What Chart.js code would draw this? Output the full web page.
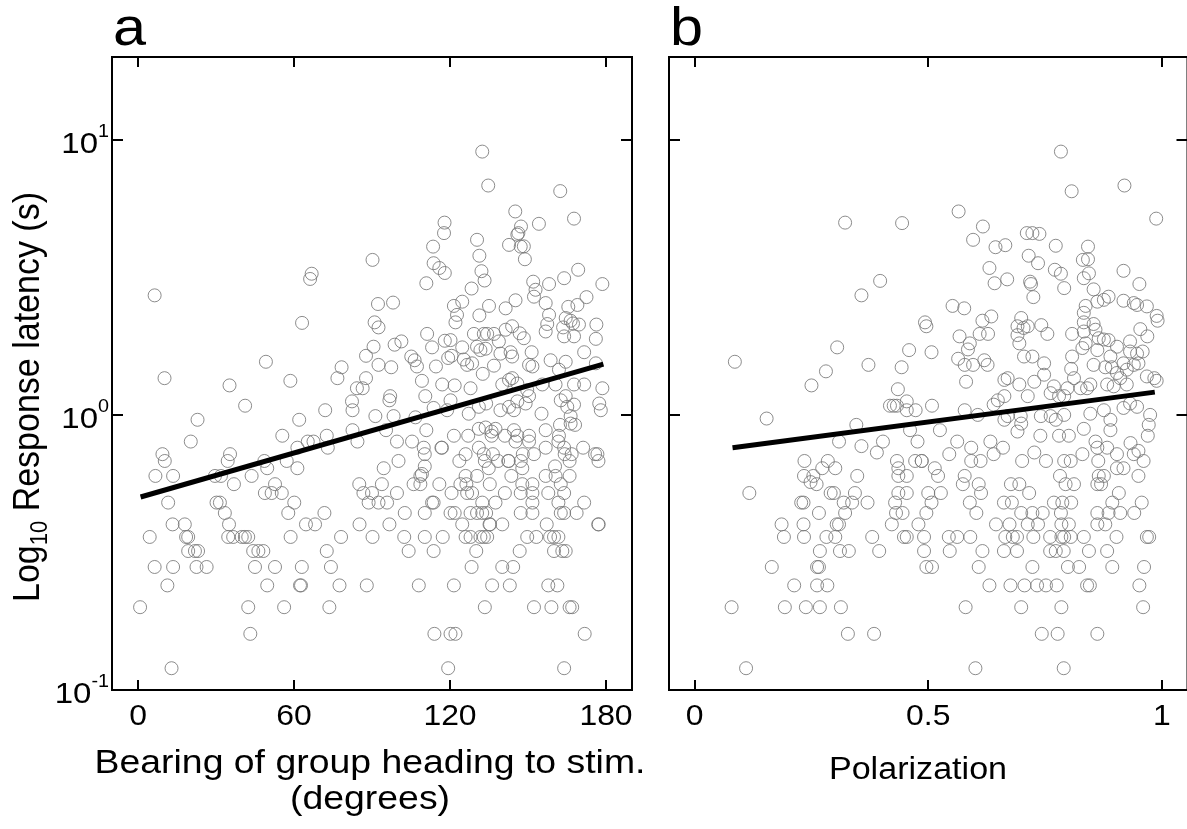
<!DOCTYPE html>
<html>
<head>
<meta charset="utf-8">
<script src="https://cdn.jsdelivr.net/npm/chart.js@4.4.1/dist/chart.umd.min.js"></script>
<style>
  html, body { margin: 0; padding: 0; background: #fff; }
  body { width: 1187px; height: 829px; overflow: hidden; position: relative; }
  #wrapA { position: absolute; left: 0; top: 0; width: 650px; height: 829px; }
  #wrapB { position: absolute; left: 650px; top: 0; width: 545px; height: 829px; }
</style>
</head>
<body>
<div id="wrapA"><canvas id="chartA"></canvas></div>
<div id="wrapB"><canvas id="chartB"></canvas></div>
<script>
// panel a: [bearing (deg), latency (s)]
const bearingLatency = [
  [6.4, 2.72], [66.8, 3.26], [66.2, 3.12], [63.1, 2.16], [49.2, 1.56], [10.2, 1.36], [35.2, 1.28], [58.6, 1.33],
  [78.3, 1.49], [76.7, 1.36], [87.7, 1.64], [87.7, 1.36], [84.2, 1.25], [86.4, 1.25], [82.3, 1.12], [82.5, 1.04],
  [72, 1.04], [41.2, 1.08],
  [22.9, 0.96], [62, 0.96], [20.3, 0.8], [55.5, 0.84], [61.3, 0.76], [65.3, 0.8], [67.5, 0.8], [72.6, 0.84],
  [73, 0.76], [82.5, 0.88], [84.4, 0.8], [9.4, 0.72], [10.3, 0.68], [6.7, 0.6], [13.5, 0.6], [35.4, 0.72],
  [34.5, 0.68], [29.6, 0.6], [31.9, 0.6], [36.9, 0.56], [43.7, 0.6], [48.6, 0.68], [49.7, 0.64], [52.7, 0.56],
  [57.2, 0.68], [61.3, 0.64], [48.8, 0.52], [51.4, 0.52], [55.3, 0.52], [11.6, 0.48], [30.2, 0.48], [31.5, 0.48],
  [60.1, 0.48], [57.8, 0.44], [33.4, 0.44], [71.7, 0.44], [85.1, 0.56], [86.7, 0.52], [13.3, 0.4], [18, 0.4],
  [35, 0.4], [64.6, 0.4], [68.1, 0.4], [85.2, 0.4], [4.5, 0.36], [18.5, 0.36], [19.3, 0.36], [34.7, 0.36],
  [36.6, 0.36], [39.9, 0.36], [41.1, 0.36], [42.4, 0.36], [58.7, 0.36], [78.1, 0.36], [19.3, 0.32], [21.9, 0.32],
  [23.1, 0.32], [44.3, 0.32], [46.3, 0.32], [48.2, 0.32], [72.6, 0.32], [6.4, 0.28], [13.5, 0.28], [22.5, 0.28],
  [26.4, 0.28], [45, 0.28], [52.7, 0.28], [63, 0.28], [74.2, 0.28], [11.3, 0.24], [49.7, 0.24], [62.3, 0.24],
  [62.7, 0.24], [77.5, 0.24], [0.8, 0.2], [42.4, 0.2], [56.2, 0.2], [73.6, 0.2], [43.2, 0.16], [12.9, 0.12],
  [119.3, 0.12], [163.9, 0.12],
  [114, 0.16], [120.2, 0.16], [122.1, 0.16], [171.8, 0.16],
  [133.4, 0.2], [152.3, 0.2], [159, 0.2], [166, 0.2], [167, 0.2],
  [88, 0.24], [108, 0.24], [121.5, 0.24], [136.2, 0.24], [143, 0.24], [157.8, 0.24], [161.3, 0.24],
  [128.3, 0.28], [140.1, 0.28], [144.3, 0.28],
  [104.1, 0.32], [113.7, 0.32], [130.1, 0.32], [146.8, 0.32], [160, 0.32], [163.2, 0.32], [164.5, 0.32],
  [90.2, 0.36], [102.4, 0.36], [110.3, 0.36], [117.2, 0.36], [126, 0.36], [127.9, 0.36], [131.7, 0.36],
  [133, 0.36], [134.3, 0.36], [149.7, 0.36], [153.2, 0.36], [158.5, 0.36], [160, 0.36], [161.7, 0.36],
  [96.7, 0.4], [124.7, 0.4], [135.2, 0.4], [135.4, 0.4], [140.1, 0.4], [157.2, 0.4], [177, 0.4], [177.2, 0.4],
  [102.6, 0.44], [110.3, 0.44], [120.2, 0.44], [121.8, 0.44], [127.9, 0.44], [130.4, 0.44], [132.4, 0.44],
  [133.9, 0.44], [147.2, 0.44], [151.7, 0.44], [162.6, 0.44], [163.9, 0.44], [168.7, 0.44],
  [88.7, 0.48], [92.5, 0.48], [95.8, 0.48], [113.1, 0.48], [113.7, 0.48], [132.4, 0.48], [137.5, 0.48],
  [151.7, 0.48], [161.7, 0.48], [171.6, 0.48],
  [90, 0.52], [99.6, 0.52], [120.6, 0.52], [126.6, 0.52], [128.5, 0.52], [141.1, 0.52], [147.2, 0.52],
  [151.7, 0.52], [157.8, 0.52], [163.9, 0.52],
  [93.8, 0.56], [106, 0.56], [108.6, 0.56], [115.9, 0.56], [124, 0.56], [126.3, 0.56], [135.3, 0.56],
  [147.8, 0.56], [151.7, 0.56], [162.6, 0.56],
  [108.6, 0.6], [109.2, 0.61], [126, 0.6], [130.4, 0.6], [143.6, 0.6], [156.8, 0.6], [160.6, 0.6], [166, 0.6],
  [94.5, 0.64], [110.3, 0.65], [134.9, 0.64], [147.8, 0.64], [160.4, 0.65],
  [100.2, 0.68], [123.6, 0.68], [133.4, 0.68], [138.5, 0.68], [142.4, 0.68], [142.6, 0.68], [147.2, 0.68],
  [166, 0.68], [177.1, 0.68],
  [110.3, 0.72], [126, 0.72], [133, 0.72], [136.5, 0.72], [148, 0.72], [152.3, 0.72], [164.1, 0.72],
  [166.8, 0.72], [175.8, 0.72], [176.7, 0.72],
  [116.7, 0.76], [116.9, 0.76], [109.9, 0.76], [131.1, 0.76], [156.8, 0.76], [163.9, 0.76], [171.2, 0.76],
  [99.6, 0.8], [105.4, 0.8], [145.2, 0.8], [150.4, 0.8], [161.7, 0.8],
  [121.5, 0.84], [127, 0.84], [136, 0.84], [141.1, 0.84], [145.9, 0.84], [150.4, 0.84], [161.9, 0.84],
  [168.1, 0.92], [162.3, 0.92], [166.4, 0.93],
  [95.4, 0.88], [110.9, 0.88], [131.1, 0.89], [133.7, 0.9], [136, 0.87], [137.5, 0.89], [144.6, 0.88], [156.8, 0.88],
  [132.4, 9.06], [134.7, 6.82], [162.4, 6.51], [145.1, 5.49], [167.7, 5.17], [117.9, 5.0], [117.7, 4.58],
  [147.3, 4.84], [146.3, 4.58], [145.9, 4.52], [154.2, 4.95], [142.7, 4.15], [147.2, 4.09], [148.4, 4.1],
  [148.8, 3.68], [130.4, 4.33], [131.3, 3.79], [113.5, 4.09], [113.7, 3.56], [115.9, 3.42], [118, 3.28],
  [110.9, 3.01], [132.1, 3.33], [133.3, 3.08], [128.3, 2.88], [90.2, 3.66], [92.3, 2.53], [98.1, 2.56],
  [91, 2.17], [92.5, 2.08], [121.5, 2.49], [124.7, 2.58], [122.7, 2.31], [122.1, 2.17], [135, 2.49],
  [131.3, 2.3], [141.4, 2.44], [145.2, 2.61], [152, 3.05], [152.9, 2.85], [152.3, 2.69], [158.1, 2.99],
  [163.9, 3.14], [169.3, 3.37], [178.6, 2.99], [156.8, 2.55], [158.1, 2.31], [157.4, 2.14], [156.8, 2.01],
  [165.5, 2.47], [169, 2.51], [172.5, 2.68], [164.5, 2.25], [166.4, 2.2], [167.3, 2.15], [163.5, 2.08],
  [169.6, 2.13], [163.9, 1.93], [167.7, 1.93], [176.3, 2.13], [176.1, 1.89], [111.2, 1.97], [113.1, 1.76],
  [118, 1.86], [120.2, 1.87], [119.3, 1.61], [120.6, 1.64], [124.7, 1.76], [125.3, 1.59], [129.2, 1.97],
  [133, 1.97], [134.3, 1.97], [136.9, 1.97], [130.4, 1.77], [131.7, 1.72], [133.7, 1.74], [128.5, 1.54],
  [126.6, 1.52], [138.8, 1.85], [141.4, 2.04], [143.9, 2.1], [146.8, 1.98], [148.4, 1.9], [139.4, 1.67],
  [143.3, 1.69], [143.9, 1.63], [151.4, 1.69], [150.4, 1.52], [151.7, 1.5], [136.9, 1.51], [132.6, 1.41],
  [114.6, 1.5], [109.2, 1.33], [117, 1.29], [121.8, 1.28], [110.5, 1.17], [97, 1.17], [96.7, 1.13],
  [90.6, 1.77], [92.5, 1.52], [97.4, 1.49], [98.7, 1.8], [101.3, 1.85], [105.1, 1.63], [106.4, 1.58],
  [107.3, 1.5], [158.7, 1.58], [155.5, 1.29], [160.6, 1.29], [164.5, 1.56], [161.9, 1.46], [167.7, 1.29],
  [171.6, 1.29], [171.6, 1.69], [176.1, 1.54], [178.6, 1.25], [177.4, 1.1], [178, 1.04], [162.6, 1.13],
  [164.5, 1.17], [165.1, 1.07], [167.7, 1.09], [155.2, 1.01], [166.4, 0.99], [140.1, 1.29], [142.7, 1.34],
  [143.9, 1.36], [145.9, 1.3], [149.7, 1.23], [150.4, 1.17], [149.1, 1.1], [145.9, 1.12], [142.7, 1.07],
  [139.4, 1.04], [144.6, 1.04], [133.9, 1.1], [131.1, 1.07], [127.2, 1.01], [120.2, 1.13], [118.9, 1.04],
  [127.9, 1.25], [113.7, 1.06], [98.3, 0.99], [91.3, 0.99], [106.7, 0.98]
];

// panel b: [polarization, latency (s)]
const polarLatency = [
  [0.322, 5.0], [0.444, 4.98], [0.397, 3.07], [0.357, 2.72], [0.493, 2.17], [0.496, 2.1], [0.305, 1.76],
  [0.459, 1.72], [0.086, 1.56], [0.281, 1.44], [0.372, 1.52], [0.443, 1.49], [0.25, 1.28], [0.435, 1.24],
  [0.418, 1.08], [0.426, 1.08], [0.433, 1.08], [0.454, 1.12], [0.454, 1.04], [0.473, 1.04], [0.154, 0.97],
  [0.784, 9.06], [0.807, 6.5], [0.92, 6.82], [0.988, 5.17], [0.565, 5.49], [0.617, 4.84], [0.596, 4.33],
  [0.644, 4.07], [0.665, 4.14], [0.711, 4.58], [0.723, 4.58], [0.738, 4.55], [0.773, 4.12], [0.842, 4.09],
  [0.831, 3.66], [0.842, 3.68], [0.715, 3.79], [0.735, 3.56], [0.631, 3.42], [0.642, 3.01], [0.669, 3.11],
  [0.718, 3.05], [0.72, 2.99], [0.725, 2.68], [0.771, 3.37], [0.784, 3.26], [0.791, 2.89], [0.833, 3.14],
  [0.844, 3.27], [0.854, 2.86], [0.918, 3.34], [0.952, 2.99], [0.837, 2.49], [0.862, 2.58], [0.876, 2.62],
  [0.886, 2.69], [0.918, 2.6], [0.94, 2.55], [0.947, 2.51], [0.968, 2.48], [0.989, 2.29], [0.991, 2.2],
  [0.552, 2.49], [0.577, 2.44], [0.616, 2.2], [0.635, 2.28], [0.61, 1.97], [0.628, 1.97], [0.567, 1.93],
  [0.589, 1.82], [0.585, 1.73], [0.699, 2.25], [0.691, 2.1], [0.713, 2.1], [0.704, 2.07], [0.742, 2.12],
  [0.755, 1.97], [0.691, 1.95], [0.695, 1.82], [0.705, 1.63], [0.723, 1.63], [0.808, 1.97], [0.833, 2.01],
  [0.837, 1.82], [0.83, 1.75], [0.833, 2.17], [0.833, 2.35], [0.854, 2.14], [0.858, 2.04], [0.865, 1.9],
  [0.876, 1.88], [0.886, 1.87], [0.904, 1.77], [0.932, 1.85], [0.954, 2.05], [0.969, 1.93], [0.932, 1.7],
  [0.947, 1.67], [0.959, 1.7], [0.95, 1.54], [0.94, 1.52], [0.918, 1.54], [0.925, 1.46], [0.968, 1.38],
  [0.984, 1.36], [0.989, 1.33], [0.89, 1.63], [0.879, 1.49], [0.893, 1.49], [0.904, 1.42], [0.883, 1.29],
  [0.897, 1.27], [0.925, 1.29], [0.911, 1.36], [0.808, 1.63], [0.806, 1.47], [0.812, 1.36], [0.826, 1.25],
  [0.84, 1.25], [0.847, 1.29], [0.854, 1.52], [0.862, 1.72], [0.748, 1.54], [0.748, 1.4], [0.769, 1.27],
  [0.762, 1.2], [0.78, 1.17], [0.67, 1.36], [0.663, 1.34], [0.695, 1.29], [0.727, 1.32], [0.713, 1.17],
  [0.663, 1.17], [0.649, 1.13], [0.64, 1.09], [0.578, 1.04], [0.508, 1.08], [0.798, 1.25], [0.791, 1.17],
  [0.932, 1.1], [0.947, 1.07], [0.975, 1.0], [0.918, 1.06], [0.876, 1.04], [0.847, 1.01], [0.791, 1.0],
  [0.762, 0.99], [0.741, 0.99], [0.698, 0.99], [0.67, 0.99], [0.606, 1.0], [0.507, 1.69], [0.564, 1.6],
  [0.578, 1.52], [0.596, 1.52], [0.62, 1.58], [0.627, 1.52], [0.581, 1.32],
  [0.11, 0.12], [0.328, 0.16], [0.384, 0.16], [0.079, 0.2], [0.193, 0.2], [0.238, 0.2], [0.268, 0.2],
  [0.313, 0.2], [0.213, 0.24], [0.262, 0.24], [0.284, 0.24], [0.165, 0.28], [0.262, 0.28], [0.266, 0.28],
  [0.268, 0.32], [0.311, 0.32], [0.33, 0.32], [0.395, 0.32], [0.191, 0.36], [0.234, 0.36], [0.282, 0.36],
  [0.301, 0.36], [0.38, 0.36], [0.448, 0.36], [0.454, 0.36], [0.186, 0.4], [0.233, 0.4], [0.304, 0.4],
  [0.309, 0.4], [0.422, 0.4], [0.479, 0.4], [0.266, 0.44], [0.322, 0.44], [0.431, 0.44], [0.445, 0.44],
  [0.117, 0.52], [0.228, 0.48], [0.233, 0.48], [0.319, 0.48], [0.337, 0.48], [0.37, 0.48], [0.429, 0.48],
  [0.291, 0.52], [0.298, 0.52], [0.343, 0.52], [0.436, 0.52], [0.454, 0.52], [0.234, 0.6], [0.254, 0.6],
  [0.261, 0.56], [0.248, 0.57], [0.436, 0.6], [0.454, 0.6], [0.348, 0.6], [0.235, 0.68], [0.273, 0.64],
  [0.285, 0.68], [0.301, 0.64], [0.433, 0.68], [0.436, 0.64], [0.472, 0.68], [0.486, 0.68], [0.309, 0.8],
  [0.357, 0.77], [0.346, 0.92], [0.39, 0.73], [0.403, 0.8], [0.461, 0.88], [0.477, 0.8],
  [0.601, 0.12], [0.79, 0.12],
  [0.743, 0.16], [0.777, 0.16], [0.862, 0.16],
  [0.58, 0.2], [0.699, 0.2], [0.785, 0.2], [0.96, 0.2],
  [0.631, 0.24], [0.676, 0.24], [0.706, 0.24], [0.733, 0.24], [0.752, 0.24], [0.775, 0.24], [0.84, 0.24],
  [0.846, 0.24], [0.952, 0.24],
  [0.496, 0.28], [0.508, 0.28], [0.608, 0.28], [0.723, 0.28], [0.799, 0.28], [0.823, 0.28], [0.894, 0.28],
  [0.962, 0.28],
  [0.491, 0.32], [0.546, 0.32], [0.616, 0.32], [0.662, 0.32], [0.69, 0.32], [0.761, 0.32], [0.773, 0.32],
  [0.79, 0.32], [0.844, 0.32], [0.883, 0.32],
  [0.491, 0.36], [0.544, 0.36], [0.562, 0.36], [0.59, 0.36], [0.665, 0.36], [0.681, 0.36], [0.69, 0.36],
  [0.725, 0.36], [0.761, 0.36], [0.785, 0.36], [0.791, 0.36], [0.805, 0.36], [0.833, 0.36], [0.903, 0.36],
  [0.968, 0.36], [0.973, 0.36],
  [0.645, 0.4], [0.674, 0.4], [0.713, 0.4], [0.735, 0.4], [0.785, 0.4], [0.801, 0.4], [0.862, 0.4], [0.879, 0.4],
  [0.496, 0.44], [0.603, 0.44], [0.699, 0.44], [0.723, 0.44], [0.745, 0.44], [0.784, 0.44], [0.862, 0.44],
  [0.886, 0.44], [0.911, 0.44], [0.941, 0.44],
  [0.507, 0.48], [0.589, 0.48], [0.662, 0.48], [0.679, 0.48], [0.769, 0.48], [0.787, 0.48], [0.806, 0.48],
  [0.894, 0.48], [0.957, 0.48],
  [0.5, 0.52], [0.527, 0.52], [0.613, 0.52], [0.716, 0.52], [0.908, 0.52],
  [0.574, 0.56], [0.608, 0.56], [0.677, 0.56], [0.695, 0.56], [0.794, 0.56], [0.812, 0.56], [0.862, 0.56],
  [0.87, 0.56],
  [0.521, 0.6], [0.578, 0.6], [0.782, 0.6], [0.865, 0.6], [0.876, 0.6], [0.95, 0.6],
  [0.514, 0.64], [0.904, 0.64], [0.918, 0.64],
  [0.486, 0.68], [0.592, 0.68], [0.612, 0.68], [0.701, 0.68], [0.752, 0.68], [0.791, 0.68], [0.805, 0.68],
  [0.864, 0.68], [0.961, 0.68],
  [0.545, 0.72], [0.64, 0.72], [0.83, 0.72], [0.904, 0.72], [0.94, 0.72], [0.95, 0.74],
  [0.592, 0.76], [0.66, 0.76], [0.727, 0.73], [0.862, 0.76], [0.883, 0.76],
  [0.562, 0.8], [0.633, 0.8], [0.858, 0.8], [0.933, 0.79],
  [0.74, 0.84], [0.78, 0.84], [0.801, 0.84], [0.97, 0.84],
  [0.525, 0.88], [0.691, 0.87], [0.833, 0.89], [0.89, 0.88],
  [0.972, 0.92], [0.699, 0.93],
  [0.663, 0.96], [0.773, 0.96], [0.89, 0.96]
];

// regression lines (end points)
const fitBearing = [1, 179];
const fitLatencyA = [0.503, 1.53];
const fitPolar = [0.081, 0.985];
const fitLatencyB = [0.759, 1.21];

const xTicksA = [0, 60, 120, 180];
const xTicksB = [0, 0.5, 1];
const xTickLabelsB = ["0", "0.5", "1"];
const yTicks = [0.1, 1, 10];

const FONT = '"Liberation Sans", Arial, sans-serif';
const STRETCH = 1.1;

function drawText(ctx, str, x, y, size, align, baseline) {
  ctx.save();
  ctx.translate(x, y);
  ctx.scale(STRETCH, 1);
  ctx.font = size + "px " + FONT;
  ctx.textAlign = align;
  ctx.textBaseline = baseline;
  ctx.fillText(str, 0, 0);
  ctx.restore();
}

const framePlugin = {
  id: "frame",
  afterDatasetsDraw(chart, args, o) {
    const ctx = chart.ctx;
    const a = chart.chartArea;
    const xs = chart.scales.x;
    const ys = chart.scales.y;
    ctx.save();
    ctx.strokeStyle = "#000";
    ctx.lineWidth = 2;
    ctx.strokeRect(a.left, a.top, a.right - a.left, a.bottom - a.top);
    ctx.beginPath();
    o.xTicks.forEach((v) => {
      const px = Math.round(xs.getPixelForValue(v));
      ctx.moveTo(px, a.bottom);
      ctx.lineTo(px, a.bottom - 10);
      ctx.moveTo(px, a.top);
      ctx.lineTo(px, a.top + 10);
    });
    yTicks.forEach((v) => {
      const py = Math.round(ys.getPixelForValue(v));
      ctx.moveTo(a.left, py);
      ctx.lineTo(a.left + 11, py);
      ctx.moveTo(a.right, py);
      ctx.lineTo(a.right - 11, py);
    });
    ctx.stroke();

    ctx.fillStyle = "#000";
    o.xTicks.forEach((v, i) => {
      drawText(ctx, o.xLabels[i], xs.getPixelForValue(v), 717, 29, "center", "middle");
    });

    if (o.yLabels) {
      yTicks.forEach((v) => {
        const py = ys.getPixelForValue(v);
        const exp = String(Math.round(Math.log10(v)));
        ctx.font = "18px " + FONT;
        const supW = ctx.measureText(exp).width * STRETCH;
        drawText(ctx, exp, 109, py - 3, 18, "right", "alphabetic");
        drawText(ctx, "10", 109 - supW, py + 13, 30, "right", "alphabetic");
      });
      // rotated axis title with subscript
      ctx.save();
      ctx.translate(39, 397);
      ctx.scale(STRETCH, 1);
      ctx.rotate(-Math.PI / 2);
      const big = "34px " + FONT;
      const small = "22px " + FONT;
      ctx.font = big;
      const w1 = ctx.measureText("Log").width;
      const w3 = ctx.measureText(" Response latency (s)").width;
      ctx.font = small;
      const w2 = ctx.measureText("10").width;
      let cx = -(w1 + w2 + w3) / 2;
      ctx.textAlign = "left";
      ctx.textBaseline = "alphabetic";
      ctx.font = big;
      ctx.fillText("Log", cx, 0);
      cx += w1;
      ctx.font = small;
      ctx.fillText("10", cx, 7);
      cx += w2;
      ctx.font = big;
      ctx.fillText(" Response latency (s)", cx, 0);
      ctx.restore();
    }

    drawText(ctx, o.letter, a.left + 1, 45, 54, "left", "alphabetic");
    o.xTitle.forEach((t, i) => {
      drawText(ctx, t, o.titleX, o.titleY + i * 36, o.titleSize, "center", "alphabetic");
    });
    ctx.restore();
  }
};

function makePanel(canvasId, pairs, fitX, fitY, xMin, xMax, padding, frame) {
  const points = pairs.map((p) => ({ x: p[0], y: p[1] }));
  const fit = fitX.map((v, i) => ({ x: v, y: fitY[i] }));
  return new Chart(document.getElementById(canvasId), {
    type: "scatter",
    data: {
      datasets: [
        {
          data: fit,
          showLine: true,
          borderColor: "#000",
          borderWidth: 5,
          pointRadius: 0,
          order: 0,
        },
        {
          data: points,
          pointRadius: 6.5,
          pointBorderWidth: 1,
          pointBorderColor: "rgba(120,120,120,0.85)",
          pointBackgroundColor: "rgba(0,0,0,0)",
          order: 1,
        },
      ],
    },
    options: {
      responsive: true,
      maintainAspectRatio: false,
      animation: false,
      events: [],
      layout: { padding: padding },
      scales: {
        x: { type: "linear", min: xMin, max: xMax, display: false },
        y: { type: "logarithmic", min: 0.1, max: 20, display: false },
      },
      plugins: {
        legend: { display: false },
        tooltip: { enabled: false },
        frame: frame,
      },
    },
    plugins: [framePlugin],
  });
}

makePanel("chartA", bearingLatency, fitBearing, fitLatencyA, -10, 190,
  { left: 112, top: 57, right: 18, bottom: 139 },
  {
    xTicks: xTicksA,
    xLabels: xTicksA.map(String),
    yLabels: true,
    letter: "a",
    xTitle: ["Bearing of group heading to stim.", "(degrees)"],
    titleX: 370,
    titleY: 773,
    titleSize: 34,
  });

makePanel("chartB", polarLatency, fitPolar, fitLatencyB, -0.055, 1.055,
  { left: 19, top: 57, right: 4, bottom: 139 },
  {
    xTicks: xTicksB,
    xLabels: xTickLabelsB,
    yLabels: false,
    letter: "b",
    xTitle: ["Polarization"],
    titleX: 268,
    titleY: 779,
    titleSize: 31,
  });
</script>
</body>
</html>
